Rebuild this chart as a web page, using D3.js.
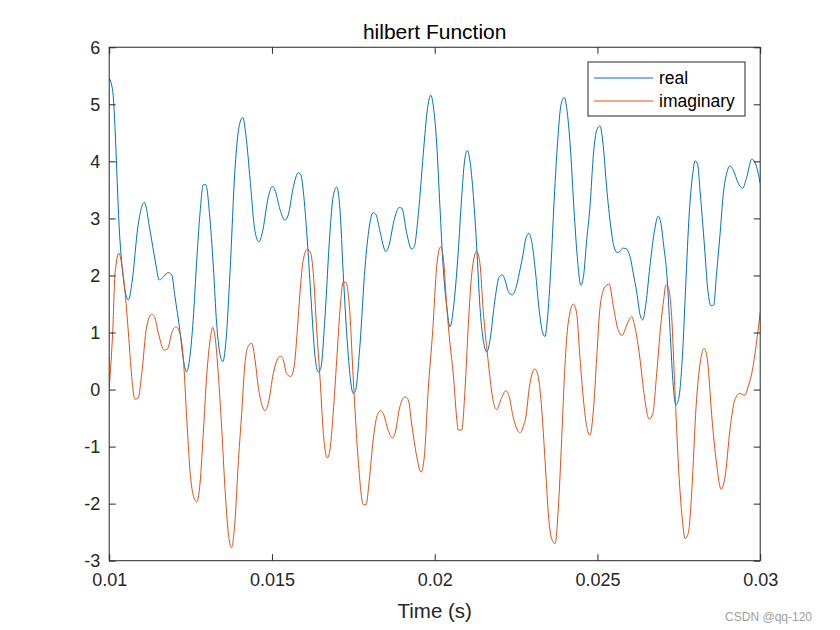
<!DOCTYPE html>
<html>
<head>
<meta charset="utf-8">
<script src="https://cdn.jsdelivr.net/npm/d3@7"></script>
<style>
  html, body { margin: 0; padding: 0; background: #ffffff; }
  svg { display: block; font-family: "Liberation Sans", Arial, Helvetica, sans-serif; }
</style>
</head>
<body>
<svg id="chart" width="840" height="630"></svg>
<script>
// ---- data ----
const chartTitle = "hilbert Function";
const xLabel = "Time (s)";
const seriesNames = ["real", "imaginary"];
const xTickValues = [0.01, 0.015, 0.02, 0.025, 0.03];
const xTickLabels = ["0.01", "0.015", "0.02", "0.025", "0.03"];
const yTickValues = [-3, -2, -1, 0, 1, 2, 3, 4, 5, 6];
const yTickLabels = ["-3", "-2", "-1", "0", "1", "2", "3", "4", "5", "6"];

const realT = [0.01000,0.01011,0.01033,0.01059,0.01071,0.01088,0.01108,0.01125,0.01141,0.01154,0.01182,0.01192,0.01202,0.01217,0.01228,0.01238,0.01248,0.01258,0.01269,0.01279,0.01289,0.01297,0.01308,0.01320,0.01330,0.01340,0.01349,0.01359,0.01371,0.01387,0.01399,0.01410,0.01420,0.01433,0.01448,0.01460,0.01470,0.01489,0.01501,0.01509,0.01525,0.01540,0.01550,0.01566,0.01581,0.01589,0.01598,0.01610,0.01620,0.01632,0.01642,0.01650,0.01663,0.01678,0.01688,0.01699,0.01709,0.01719,0.01731,0.01750,0.01757,0.01770,0.01786,0.01799,0.01811,0.01820,0.01832,0.01850,0.01857,0.01878,0.01891,0.01899,0.01914,0.01929,0.01937,0.01950,0.01965,0.01978,0.01988,0.01996,0.02006,0.02016,0.02026,0.02037,0.02047,0.02058,0.02072,0.02083,0.02091,0.02100,0.02108,0.02119,0.02129,0.02139,0.02149,0.02160,0.02170,0.02185,0.02198,0.02208,0.02216,0.02226,0.02238,0.02249,0.02262,0.02272,0.02280,0.02289,0.02300,0.02310,0.02321,0.02331,0.02339,0.02346,0.02357,0.02367,0.02378,0.02388,0.02398,0.02407,0.02418,0.02428,0.02438,0.02449,0.02457,0.02467,0.02477,0.02488,0.02498,0.02508,0.02518,0.02528,0.02541,0.02551,0.02561,0.02569,0.02579,0.02590,0.02600,0.02610,0.02621,0.02631,0.02639,0.02649,0.02661,0.02674,0.02687,0.02695,0.02704,0.02713,0.02723,0.02733,0.02741,0.02750,0.02761,0.02771,0.02782,0.02793,0.02800,0.02808,0.02815,0.02829,0.02839,0.02849,0.02857,0.02866,0.02877,0.02887,0.02897,0.02907,0.02917,0.02933,0.02946,0.02959,0.02974,0.02984,0.02994,0.03000];
const realV = [5.46,5.22,2.62,1.57,1.92,2.85,3.28,2.80,2.27,1.92,2.05,2.01,1.63,1.04,0.52,0.31,0.58,1.22,2.27,3.09,3.59,3.59,3.09,2.15,1.16,0.63,0.49,0.87,2.04,3.91,4.61,4.77,4.46,3.67,2.77,2.59,2.74,3.38,3.56,3.50,3.15,2.97,3.06,3.56,3.80,3.76,3.38,2.50,1.60,0.60,0.31,0.37,1.28,2.74,3.38,3.55,3.15,2.04,0.87,-0.07,-0.01,0.75,2.15,2.85,3.10,3.06,2.77,2.42,2.48,3.03,3.19,3.18,2.74,2.46,2.50,3.09,4.14,4.93,5.16,4.96,4.32,3.21,2.15,1.45,1.10,1.45,2.39,3.38,3.97,4.19,4.02,3.38,2.50,1.45,0.87,0.66,0.87,1.57,1.97,2.01,1.92,1.72,1.66,1.77,2.10,2.39,2.65,2.74,2.53,2.04,1.39,1.01,0.93,1.22,2.15,3.32,4.37,4.99,5.12,4.87,4.14,3.15,2.33,1.83,1.98,2.62,3.20,4.15,4.55,4.62,4.26,3.56,2.85,2.50,2.40,2.42,2.48,2.46,2.33,2.04,1.69,1.31,1.22,1.51,2.15,2.74,3.04,2.91,2.50,2.04,1.04,0.05,-0.27,-0.15,0.58,1.80,3.09,3.79,4.01,3.94,3.50,2.50,1.75,1.47,1.48,2.04,2.75,3.45,3.79,3.92,3.85,3.61,3.53,3.73,4.04,3.98,3.79,3.61];

const imagT = [0.01000,0.01011,0.01018,0.01030,0.01038,0.01049,0.01059,0.01069,0.01079,0.01089,0.01100,0.01115,0.01131,0.01139,0.01151,0.01169,0.01180,0.01192,0.01205,0.01217,0.01228,0.01238,0.01248,0.01258,0.01269,0.01279,0.01289,0.01300,0.01310,0.01318,0.01325,0.01335,0.01346,0.01356,0.01366,0.01376,0.01386,0.01397,0.01407,0.01417,0.01426,0.01438,0.01448,0.01458,0.01469,0.01479,0.01489,0.01504,0.01525,0.01533,0.01545,0.01558,0.01568,0.01578,0.01586,0.01596,0.01609,0.01619,0.01627,0.01637,0.01648,0.01658,0.01670,0.01678,0.01688,0.01699,0.01709,0.01719,0.01727,0.01738,0.01750,0.01765,0.01781,0.01789,0.01799,0.01811,0.01822,0.01834,0.01842,0.01857,0.01870,0.01878,0.01893,0.01909,0.01919,0.01929,0.01945,0.01958,0.01968,0.01980,0.01994,0.02006,0.02018,0.02026,0.02037,0.02047,0.02057,0.02068,0.02072,0.02083,0.02093,0.02103,0.02114,0.02129,0.02139,0.02149,0.02165,0.02180,0.02190,0.02203,0.02219,0.02229,0.02241,0.02254,0.02262,0.02272,0.02280,0.02291,0.02308,0.02318,0.02329,0.02339,0.02349,0.02359,0.02370,0.02380,0.02390,0.02400,0.02410,0.02426,0.02436,0.02446,0.02457,0.02467,0.02477,0.02487,0.02498,0.02508,0.02523,0.02536,0.02549,0.02564,0.02576,0.02590,0.02605,0.02615,0.02631,0.02643,0.02659,0.02670,0.02682,0.02694,0.02704,0.02710,0.02717,0.02728,0.02738,0.02748,0.02761,0.02769,0.02779,0.02790,0.02803,0.02817,0.02828,0.02839,0.02851,0.02866,0.02880,0.02892,0.02907,0.02922,0.02937,0.02953,0.02963,0.02974,0.02984,0.03000];
const imagV = [0.03,1.04,2.04,2.39,2.21,1.69,0.99,0.23,-0.17,-0.15,0.28,1.10,1.32,1.28,0.99,0.69,0.72,0.99,1.10,0.99,0.52,-0.48,-1.41,-1.85,-1.97,-1.65,-0.77,0.28,0.87,1.09,0.93,0.28,-0.71,-1.76,-2.52,-2.77,-2.34,-1.24,-0.42,0.45,0.75,0.81,0.52,0.05,-0.27,-0.37,-0.24,0.28,0.58,0.55,0.28,0.23,0.40,1.04,1.69,2.27,2.46,2.39,2.04,1.10,0.17,-0.77,-1.20,-1.06,-0.42,0.52,1.39,1.88,1.88,1.45,0.17,-1.24,-2.02,-2.02,-1.59,-0.88,-0.48,-0.37,-0.42,-0.71,-0.85,-0.77,-0.30,-0.13,-0.18,-0.59,-1.18,-1.45,-1.18,-0.01,1.04,2.15,2.50,2.33,1.45,0.80,0.28,-0.53,-0.71,-0.71,-0.01,1.10,2.04,2.42,2.21,1.39,0.46,-0.21,-0.35,-0.18,-0.02,-0.13,-0.48,-0.71,-0.76,-0.65,-0.48,0.05,0.36,0.23,-0.36,-1.24,-2.17,-2.61,-2.70,-2.06,-0.88,0.40,1.16,1.50,1.34,0.58,-0.18,-0.65,-0.80,-0.40,0.58,1.45,1.80,1.85,1.45,1.04,0.95,1.13,1.28,1.10,0.52,-0.07,-0.52,-0.42,0.28,1.10,1.60,1.83,1.80,1.28,-0.01,-1.24,-2.29,-2.61,-2.52,-1.76,-0.30,0.52,0.72,0.46,-0.45,-1.30,-1.75,-1.53,-0.71,-0.18,-0.07,-0.10,0.05,0.28,0.63,1.35];

const seriesColors = ["#0072BD", "#D95319"];

// ---- layout ----
const W = 840, H = 630;
const plot = { left: 109.2, top: 47.25, width: 651, height: 513.45 };
const axisColor = "#262626";
const tickLen = 6.5;

const svg = d3.select("#chart");
svg.append("rect").attr("width", W).attr("height", H).attr("fill", "#ffffff");

const x = d3.scaleLinear().domain([0.01, 0.03]).range([plot.left, plot.left + plot.width]);
const y = d3.scaleLinear().domain([-3, 6]).range([plot.top + plot.height, plot.top]);

// clip
svg.append("defs").append("clipPath").attr("id", "clip")
  .append("rect").attr("x", plot.left).attr("y", plot.top)
  .attr("width", plot.width).attr("height", plot.height);

// series
const series = [
  { name: seriesNames[0], t: realT, v: realV, color: seriesColors[0] },
  { name: seriesNames[1], t: imagT, v: imagV, color: seriesColors[1] }
];
const line = d3.line().x(d => x(d[0])).y(d => y(d[1])).curve(d3.curveMonotoneX);
const gLines = svg.append("g").attr("clip-path", "url(#clip)");
series.forEach(s => {
  const pts = s.t.map((t, i) => [t, s.v[i]]);
  gLines.append("path").datum(pts)
    .attr("fill", "none").attr("stroke", s.color).attr("stroke-width", 1)
    .attr("stroke-linejoin", "round").attr("d", line);
});

// axes
function styleAxis(g) {
  g.select(".domain").remove();
  g.selectAll(".tick line").attr("stroke", axisColor).attr("stroke-width", 1);
  g.selectAll(".tick text").attr("fill", axisColor).attr("font-size", 18)
    .attr("font-family", "'Liberation Sans', Arial, Helvetica, sans-serif");
}
const fmtX = d => xTickLabels[xTickValues.indexOf(d)];
const fmtY = d => yTickLabels[yTickValues.indexOf(d)];

svg.append("g").attr("transform", `translate(0,${plot.top + plot.height})`)
  .call(d3.axisBottom(x).tickValues(xTickValues).tickFormat(fmtX)
    .tickSizeInner(-tickLen).tickSizeOuter(0).tickPadding(13))
  .call(styleAxis);
svg.append("g").attr("transform", `translate(0,${plot.top})`)
  .call(d3.axisTop(x).tickValues(xTickValues).tickFormat("")
    .tickSizeInner(-tickLen).tickSizeOuter(0))
  .call(styleAxis);
svg.append("g").attr("transform", `translate(${plot.left},0)`)
  .call(d3.axisLeft(y).tickValues(yTickValues).tickFormat(fmtY)
    .tickSizeInner(-tickLen).tickSizeOuter(0).tickPadding(9))
  .call(styleAxis);
svg.append("g").attr("transform", `translate(${plot.left + plot.width},0)`)
  .call(d3.axisRight(y).tickValues(yTickValues).tickFormat("")
    .tickSizeInner(-tickLen).tickSizeOuter(0))
  .call(styleAxis);

// box
svg.append("rect").attr("x", plot.left).attr("y", plot.top)
  .attr("width", plot.width).attr("height", plot.height)
  .attr("fill", "none").attr("stroke", axisColor).attr("stroke-width", 1);

// title & label
svg.append("text").attr("x", plot.left + plot.width / 2).attr("y", 39)
  .attr("text-anchor", "middle").attr("font-size", 21).attr("fill", "#000")
  .text(chartTitle);
svg.append("text").attr("x", plot.left + plot.width / 2).attr("y", 618)
  .attr("text-anchor", "middle").attr("font-size", 20.5).attr("fill", axisColor)
  .text(xLabel);

// legend
const leg = { x: 588, y: 62, w: 157, h: 54 };
const gLeg = svg.append("g");
gLeg.append("rect").attr("x", leg.x).attr("y", leg.y).attr("width", leg.w).attr("height", leg.h)
  .attr("fill", "#ffffff").attr("stroke", axisColor).attr("stroke-width", 1);
series.forEach((s, i) => {
  const yy = leg.y + 16 + i * 23;
  gLeg.append("line").attr("x1", leg.x + 6).attr("x2", leg.x + 65)
    .attr("y1", yy).attr("y2", yy).attr("stroke", s.color).attr("stroke-width", 1);
  gLeg.append("text").attr("x", leg.x + 71).attr("y", yy).attr("dy", "0.35em")
    .attr("font-size", 17.5).attr("fill", "#000").text(s.name);
});

// watermark
svg.append("text").attr("x", 812).attr("y", 621).attr("text-anchor", "end")
  .attr("font-size", 12).attr("fill", "#a0a0a0").text("CSDN @qq-120");
</script>
</body>
</html>
